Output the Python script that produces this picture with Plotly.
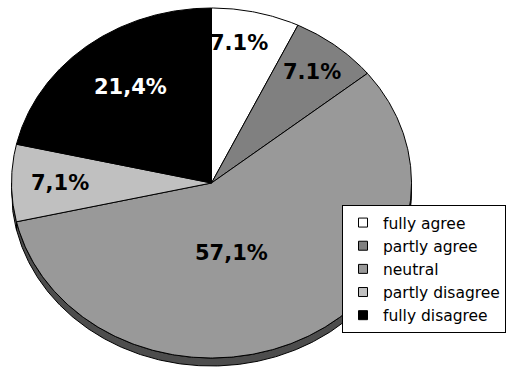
import numpy as np
import plotly.graph_objects as go

# Survey answer shares (percent)
categories = ["fully agree", "partly agree", "neutral", "partly disagree", "fully disagree"]
shares = [7.1, 7.1, 57.1, 7.1, 21.4]
decimal_marks = [".", ".", ",", ",", ","]

# Styling
fill_colors = ["#ffffff", "#808080", "#999999", "#c0c0c0", "#000000"]
rim_colors = ["#8c8c8c", "#404040", "#4d4d4d", "#606060", "#000000"]
label_colors = ["#000000", "#000000", "#000000", "#000000", "#ffffff"]
label_radius = [0.81, 0.81, 0.41, 0.76, 0.68]
label_angle_shift = [-3, 0, 12, 0, 2]

W, H = 517, 369
cx_px, cy_px, rx_px, ry_px = 211.5, 183.0, 200.0, 175.0
depth = 8.0 / ry_px

total = sum(shares)
bounds = np.concatenate([[0.0], np.cumsum(shares) / total * 360.0])


def arc(a0, a1, n=None):
    if n is None:
        n = max(int(abs(a1 - a0) * 2) + 2, 3)
    t = np.radians(np.linspace(a0, a1, n))
    return np.sin(t), np.cos(t)


fig = go.Figure()

# Side band of the tilted pie (visible lower half, 90..270 degrees clockwise from top)
for i in range(len(shares)):
    a0 = max(bounds[i], 90.0)
    a1 = min(bounds[i + 1], 270.0)
    if a1 <= a0:
        continue
    tx, ty = arc(a0, a1)
    xs = np.concatenate([tx, tx[::-1]])
    ys = np.concatenate([ty, ty[::-1] - depth])
    xs = np.append(xs, xs[0])
    ys = np.append(ys, ys[0])
    fig.add_trace(go.Scatter(
        x=xs, y=ys, mode="lines", fill="toself",
        fillcolor=rim_colors[i], line=dict(color="#000000", width=1),
        hoverinfo="skip", showlegend=False))

# Top face slices
for i in range(len(shares)):
    tx, ty = arc(bounds[i], bounds[i + 1])
    xs = np.concatenate([[0.0], tx, [0.0]])
    ys = np.concatenate([[0.0], ty, [0.0]])
    fig.add_trace(go.Scatter(
        x=xs, y=ys, mode="lines", fill="toself",
        fillcolor=fill_colors[i], line=dict(color="#000000", width=1),
        hoverinfo="skip", showlegend=False))

# Legend entries
for i, name in enumerate(categories):
    fig.add_trace(go.Scatter(
        x=[None], y=[None], mode="markers", name=name,
        marker=dict(symbol="square", size=9, color=fill_colors[i],
                    line=dict(color="#000000", width=1))))

# Percentage labels
for i, v in enumerate(shares):
    mid = (bounds[i] + bounds[i + 1]) / 2 + label_angle_shift[i]
    t = np.radians(mid)
    text = f"{v:.1f}".replace(".", decimal_marks[i]) + "%"
    fig.add_annotation(
        x=label_radius[i] * np.sin(t), y=label_radius[i] * np.cos(t),
        text=text, showarrow=False,
        font=dict(family="DejaVu Sans", size=21, color=label_colors[i], weight="bold"))

fig.update_layout(
    width=W, height=H,
    margin=dict(l=0, r=0, t=0, b=0),
    paper_bgcolor="#ffffff", plot_bgcolor="#ffffff",
    xaxis=dict(range=[-cx_px / rx_px, (W - cx_px) / rx_px], visible=False, fixedrange=True),
    yaxis=dict(range=[(cy_px - H) / ry_px, cy_px / ry_px], visible=False, fixedrange=True),
    legend=dict(
        x=342 / W, y=1 - 205 / H, xanchor="left", yanchor="top",
        bgcolor="#ffffff", bordercolor="#000000", borderwidth=1,
        font=dict(family="DejaVu Sans", size=15.5, color="#000000"),
        itemwidth=30, tracegroupgap=0),
    showlegend=True,
)

fig.write_html("out.html")
